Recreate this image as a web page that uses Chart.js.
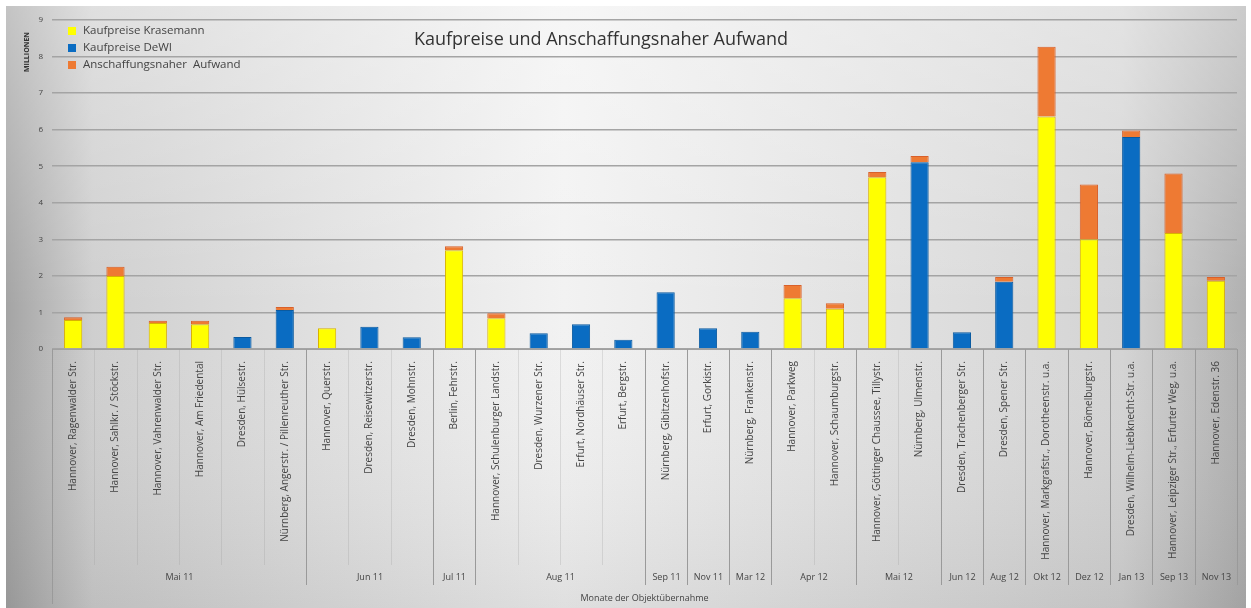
<!DOCTYPE html>
<html>
<head>
<meta charset="utf-8">
<style>
  html, body { margin: 0; padding: 0; background: #fff; }
  #wrap { width: 1251px; height: 608px; }
</style>
</head>
<body>
<div id="wrap"><canvas id="kaufChart" width="1251" height="608"></canvas></div>

<script src="https://cdn.jsdelivr.net/npm/chart.js"></script>
<script>
  // Objekte (innere Kategorieebene)
  const objekte = [
    'Hannover, Ragenwalder Str.', 'Hannover, Sahlkr. / Stöckstr.', 'Hannover, Vahrenwalder Str.',
    'Hannover, Am Friedental', 'Dresden, Hülsestr.', 'Nürnberg, Angerstr. / Pillenreuther Str.',
    'Hannover, Querstr.', 'Dresden, Reisewitzerstr.', 'Dresden, Mohnstr.',
    'Berlin, Fehrstr.',
    'Hannover, Schulenburger Landstr.', 'Dresden, Wurzener Str.', 'Erfurt, Nordhäuser Str.', 'Erfurt, Bergstr.',
    'Nürnberg, Gibitzenhofstr.', 'Erfurt, Gorkistr.', 'Nürnberg, Frankenstr.',
    'Hannover, Parkweg', 'Hannover, Schaumburgstr.',
    'Hannover, Göttinger Chaussee, Tillystr.', 'Nürnberg, Ulmenstr.',
    'Dresden, Trachenberger Str.', 'Dresden, Spener Str.',
    'Hannover, Markgrafstr., Dorotheenstr. u.a.', 'Hannover, Bömelburgstr.',
    'Dresden, Wilhelm-Liebknecht-Str. u.a.', 'Hannover, Leipziger Str., Erfurter Weg, u.a.',
    'Hannover, Edenstr. 36'
  ];

  // Monate (äußere Kategorieebene) und Anzahl Objekte je Monat
  const monate = ['Mai 11', 'Jun 11', 'Jul 11', 'Aug 11', 'Sep 11', 'Nov 11', 'Mar 12', 'Apr 12',
                  'Mai 12', 'Jun 12', 'Aug 12', 'Okt 12', 'Dez 12', 'Jan 13', 'Sep 13', 'Nov 13'];
  const monatAnzahl = [6, 3, 1, 4, 1, 1, 1, 2, 2, 1, 1, 1, 1, 1, 1, 1];

  // Werte in Millionen
  const krasemann = [0.79, 2.0, 0.71, 0.68, 0, 0, 0.57, 0, 0, 2.7, 0.84, 0, 0, 0, 0, 0, 0, 1.39, 1.1,
                     4.7, 0, 0, 0, 6.36, 3.0, 0, 3.17, 1.87];
  const dewi = [0, 0, 0, 0, 0.33, 1.07, 0, 0.61, 0.32, 0, 0, 0.43, 0.68, 0.25, 1.55, 0.57, 0.47, 0, 0,
                0, 5.11, 0.46, 1.84, 0, 0, 5.8, 0, 0];
  const aufwand = [0.08, 0.25, 0.06, 0.09, 0, 0.08, 0, 0, 0, 0.11, 0.14, 0, 0, 0, 0, 0, 0, 0.36, 0.15,
                   0.14, 0.17, 0, 0.13, 1.91, 1.5, 0.18, 1.63, 0.1];

  const yTicks = [0, 1, 2, 3, 4, 5, 6, 7, 8, 9];

  const FONT = 'Open Sans, Lato, sans-serif';

  // Hintergrund, Titel, Legende und Monatsgruppen
  const deko = {
    id: 'deko',
    beforeDraw(chart) {
      const c = chart.ctx, w = chart.width, h = chart.height;
      c.save();
      c.fillStyle = '#fff';
      c.fillRect(0, 0, w, h);
      const g = c.createLinearGradient(6, 0, w - 5, 0);
      g.addColorStop(0, '#a4a4a4');
      g.addColorStop(0.07, '#cfcfcf');
      g.addColorStop(0.45, '#f2f2f2');
      g.addColorStop(0.9, '#d4d4d4');
      g.addColorStop(1, '#b0b0b0');
      c.fillStyle = g;
      c.fillRect(6, 6, w - 11, h - 6);
      const v = c.createLinearGradient(0, 6, 0, h);
      v.addColorStop(0, 'rgba(255,255,255,0.35)');
      v.addColorStop(0.5, 'rgba(255,255,255,0)');
      v.addColorStop(1, 'rgba(0,0,0,0.08)');
      c.fillStyle = v;
      c.fillRect(6, 6, w - 11, h - 6);
      c.restore();
    },
    afterDraw(chart) {
      const c = chart.ctx;
      const x = chart.scales.x;
      const area = chart.chartArea;
      c.save();

      // Titel
      c.fillStyle = '#333';
      c.font = '18px ' + FONT;
      c.textAlign = 'center';
      c.textBaseline = 'middle';
      c.fillText('Kaufpreise und Anschaffungsnaher Aufwand', 601, 40);

      // Achsentitel Y
      c.save();
      c.translate(27, 52);
      c.rotate(-Math.PI / 2);
      c.font = 'bold 7px ' + FONT;
      c.fillStyle = '#333';
      c.fillText('MILLIONEN', 0, 0);
      c.restore();

      // Legende
      c.textAlign = 'left';
      c.font = '11.5px ' + FONT;
      chart.data.datasets.forEach((ds, i) => {
        const ly = 31 + i * 17;
        c.fillStyle = ds.backgroundColor;
        c.fillRect(68, ly - 4, 8, 8);
        c.fillStyle = '#444';
        c.fillText(ds.label, 83, ly);
      });

      // leichte Trennlinien zwischen Objekten
      const step = (x.right - x.left) / objekte.length;
      c.strokeStyle = 'rgba(150,150,150,0.25)';
      c.lineWidth = 1;
      for (let i = 1; i < objekte.length; i++) {
        const px = Math.round(x.left + i * step) + 0.5;
        c.beginPath(); c.moveTo(px, area.bottom); c.lineTo(px, 565); c.stroke();
      }

      // Monatsgruppen
      c.strokeStyle = '#9a9a9a';
      c.font = '9px ' + FONT;
      c.textAlign = 'center';
      c.fillStyle = '#444';
      let idx = 0;
      const edge = (i) => Math.round(x.getPixelForValue(i) - step / 2) + 0.5;
      c.beginPath(); c.moveTo(edge(0), area.bottom); c.lineTo(edge(0), 604); c.stroke();
      monate.forEach((m, k) => {
        const start = idx, end = idx + monatAnzahl[k];
        const xr = edge(end);
        c.beginPath(); c.moveTo(xr, area.bottom); c.lineTo(xr, 585); c.stroke();
        const mid = (edge(start) + xr) / 2;
        c.fillText(m, mid, 577);
        idx = end;
      });

      // Achsentitel X
      c.fillText('Monate der Objektübernahme', (area.left + area.right) / 2, 598);
      c.restore();
    }
  };

  const ctx = document.getElementById('kaufChart').getContext('2d');
  new Chart(ctx, {
    type: 'bar',
    data: {
      labels: objekte,
      datasets: [
        { label: 'Kaufpreise Krasemann', data: krasemann, backgroundColor: '#ffff00',
          borderColor: '#d9b200', borderWidth: 1 },
        { label: 'Kaufpreise DeWI', data: dewi, backgroundColor: '#0a6cc2',
          borderColor: '#0a5aa0', borderWidth: 1 },
        { label: 'Anschaffungsnaher  Aufwand', data: aufwand, backgroundColor: '#ee7a33',
          borderColor: '#d9602a', borderWidth: 1 }
      ]
    },
    options: {
      responsive: false,
      animation: false,
      layout: { padding: { top: 20, right: 14, left: 0, bottom: 0 } },
      datasets: { bar: { categoryPercentage: 1, barPercentage: 0.43 } },
      plugins: { legend: { display: false }, title: { display: false }, tooltip: { enabled: false } },
      scales: {
        x: {
          stacked: true,
          grid: { display: false },
          border: { display: true, color: '#a0a0a0' },
          afterFit(s) { s.height = 259; },
          ticks: {
            autoSkip: false, minRotation: 90, maxRotation: 90, padding: 4,
            color: '#444', font: { size: 10, family: FONT }
          }
        },
        y: {
          stacked: true,
          min: 0, max: 9,
          afterFit(s) { s.width = 52; },
          afterBuildTicks(s) { s.ticks = yTicks.map(v => ({ value: v })); },
          border: { display: false },
          grid: { color: '#a4a4a4', lineWidth: 1.5, drawTicks: false },
          ticks: { padding: 9, color: '#444', font: { size: 8, family: FONT } }
        }
      }
    },
    plugins: [deko]
  });
</script>
</body>
</html>
